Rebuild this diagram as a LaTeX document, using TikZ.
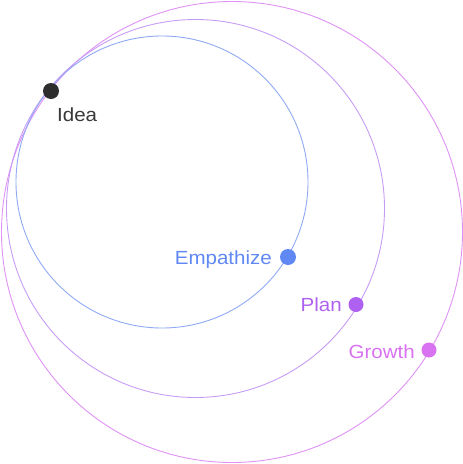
\documentclass[tikz,border=0pt]{standalone}
\usepackage{fontspec}
\setmainfont{Liberation Sans}[FakeStretch=1.08]
\usepackage{xcolor}
\usetikzlibrary{positioning,calc}

\definecolor{ideadot}{HTML}{2E2E2E}
\definecolor{empcol}{HTML}{6088F3}
\definecolor{empline}{HTML}{90A9F5}
\definecolor{plancol}{HTML}{AE60F0}
\definecolor{planline}{HTML}{C79CF5}
\definecolor{growcol}{HTML}{D872F0}
\definecolor{growline}{HTML}{DF92F5}

\begin{document}
\begin{tikzpicture}[x=1pt, y=-1pt,
    dot/.style={circle, inner sep=0pt, minimum size=16pt},
    lbl/.style={inner sep=0pt, font=\fontsize{19}{22}\selectfont},
    ring/.style={line width=0.9pt}]
   \useasboundingbox (0,0) rectangle (463,464);

   % rings
   \draw[ring, growline] (232,232) circle[radius=230.5pt];
   \draw[ring, planline] (195.5,208.5) circle[radius=189pt];
   \draw[ring, empline] (162,182) circle[radius=146pt];

   % Idea
   \node (idea) at (51,91) [dot, fill=ideadot] {};
   \node (idealbl) at (57,121) [lbl, anchor=base west, text=ideadot!95] {Idea};

   % Empathize
   \node (empathize) at (288,257) [dot, fill=empcol] {};
   \node (emplbl) at (272,264) [lbl, anchor=base east, text=empcol] {Empathize};

   % Plan
   \node (plan) at (356,304.5) [dot, minimum size=15pt, fill=plancol] {};
   \node (planlbl) at (342,311) [lbl, anchor=base east, text=plancol] {Plan};

   % Growth
   \node (growth) at (429,350) [dot, minimum size=15pt, fill=growcol] {};
   \node (growlbl) at (415,358) [lbl, anchor=base east, text=growcol] {Growth};

\end{tikzpicture}
\end{document}
